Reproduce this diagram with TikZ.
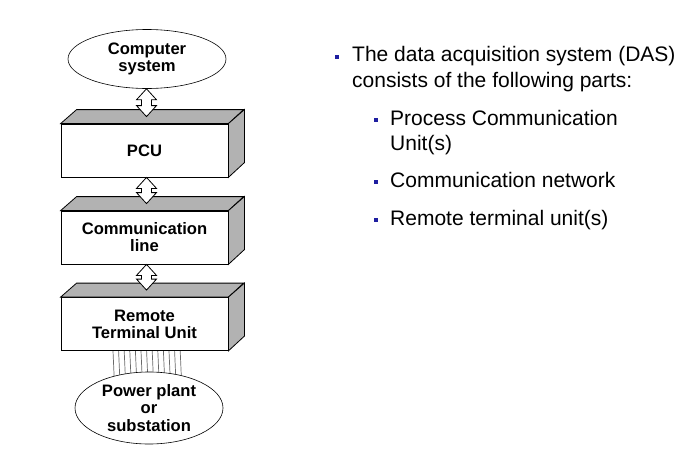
\documentclass[tikz,border=0pt]{standalone}
\usepackage{fontspec}
\setmainfont{Liberation Sans}
\usetikzlibrary{shapes.geometric,calc,backgrounds}
\definecolor{facegray}{RGB}{178,178,178}
\definecolor{bulletblue}{RGB}{30,30,160}
\definecolor{cablegray}{RGB}{105,105,105}
\newcommand\hollowarrow[2]{%
  \draw[harrow] (#1) -- ($(#1)+(10,11)$) -- ($(#1)+(5,11)$) -- ($(#2)+(5,-11)$) -- ($(#2)+(10,-11)$)
  -- (#2) -- ($(#2)+(-10,-11)$) -- ($(#2)+(-5,-11)$) -- ($(#1)+(-5,11)$) -- ($(#1)+(-10,11)$) -- cycle;}
\newcommand\cubefaces[1]{%
  \draw[face] (#1.north west) -- ++(16,-14) -- ++(167,0) -- (#1.north east) -- cycle;
  \draw[face] (#1.north east) -- ++(16,-14) -- ++(0,53) -- (#1.south east) -- cycle;}
\begin{document}
\begin{tikzpicture}[x=1pt,y=-1pt,
  box/.style={draw, fill=white, line width=0.8pt, minimum width=167pt, minimum height=53pt,
    inner sep=0pt, align=center, font=\fontsize{16.6}{17}\selectfont\bfseries},
  oval/.style={ellipse, draw, fill=white, line width=0.6pt, inner sep=0pt, align=center,
    font=\fontsize{16.6}{17.5}\selectfont\bfseries},
  face/.style={draw, fill=facegray, line width=0.8pt, line join=miter},
  harrow/.style={draw, fill=white, line width=0.8pt, line join=miter},
  cable/.style={draw=cablegray, line width=0.7pt},
  bul/.style={fill=bulletblue, inner sep=0pt, minimum size=4pt},
  txt/.style={anchor=base west, inner sep=0pt, font=\fontsize{21}{26}\selectfont}]
\useasboundingbox (0,0) rectangle (682,458);

% ovals
\node[oval, minimum width=158pt, minimum height=59pt] (cs) at (147,59) {Computer\\system};
\node[oval, minimum width=148pt, minimum height=72pt] (ps) at (149,408) {Power plant\\or\\substation};

% boxes
\node[box] (pcu) at (144.5,150.5) {PCU};
\cubefaces{pcu}
\node[box] (comm) at (144.5,237.5) {Communication\\line};
\cubefaces{comm}
\node[box] (rtu) at (144.5,324) {Remote\\Terminal Unit};
\cubefaces{rtu}

% background and cables RTU -> power plant
\begin{scope}[on background layer]
\fill[white] (0,0) rectangle (682,458);
\foreach \i in {0,...,12}{
  \draw[cable] ($(rtu.south)+(-31.5+5.6*\i,0)$) -- ($(ps.center)+(-33.5+5.6*\i,0)$);
}
\end{scope}

% hollow double arrows
\coordinate (a1t) at ($(cs.south)+(-0.5,0)$);
\coordinate (a1b) at ($(pcu.north)+(2,-7)$);
\hollowarrow{a1t}{a1b}
\coordinate (a2t) at ($(pcu.south)+(2,0)$);
\coordinate (a2b) at ($(comm.north)+(2,-7)$);
\hollowarrow{a2t}{a2b}
\coordinate (a3t) at ($(comm.south)+(2,0)$);
\coordinate (a3b) at ($(rtu.north)+(2,-7)$);
\hollowarrow{a3t}{a3b}

% bullet text
\node[bul] (b0) at (337,56.5) {};
\node[txt] (t0a) at (352,61) {The data acquisition system (DAS)};
\node[txt] (t0b) at (352,87) {consists of the following parts:};
\node[bul] (b1) at (376,120) {};
\node[txt] (t1a) at (390,125) {Process Communication};
\node[txt] (t1b) at (390,150) {Unit(s)};
\node[bul] (b2) at (376,182) {};
\node[txt] (t2) at (390,187) {Communication network};
\node[bul] (b3) at (376,220) {};
\node[txt] (t3) at (390,225) {Remote terminal unit(s)};
\end{tikzpicture}
\end{document}
